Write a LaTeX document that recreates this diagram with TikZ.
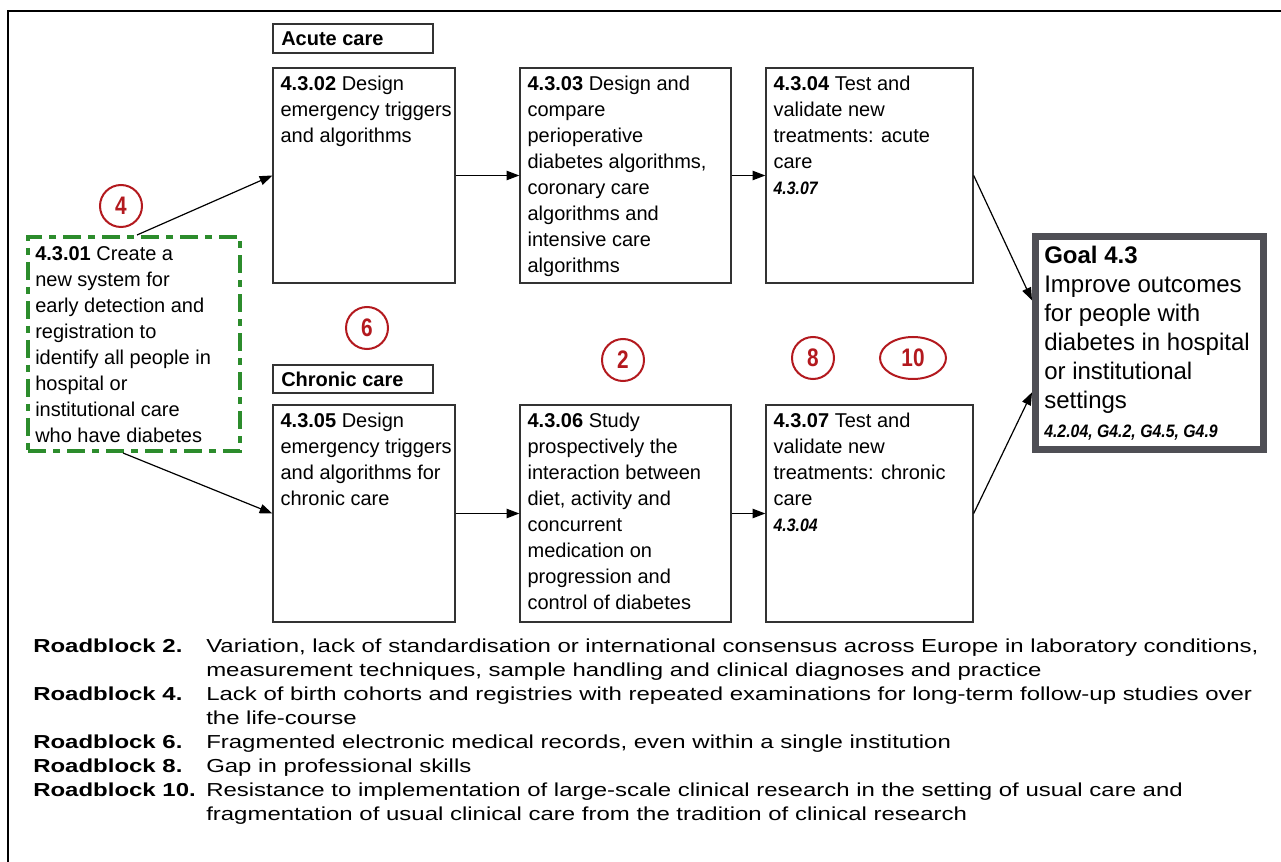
\documentclass[tikz,border=0pt]{standalone}
\usepackage{fontspec}
\setmainfont{Liberation Sans}
\newfontfamily\narrowsans[FakeStretch=0.88]{Liberation Sans}
\newfontfamily\digitsans[FakeStretch=0.82]{Liberation Sans}
\newfontfamily\widesans[FakeStretch=1.275]{Liberation Sans}
\usetikzlibrary{arrows.meta,fit,shapes.geometric}
\definecolor{rbred}{HTML}{B3191E}
\definecolor{rbgreen}{HTML}{2C8C2C}
\definecolor{boxgray}{HTML}{333333}
\definecolor{goalgray}{HTML}{4F4F55}
\newcommand{\refs}[1]{{\narrowsans\fontsize{13.5}{19.5}\selectfont\bfseries\itshape #1}}
\begin{document}
\begin{tikzpicture}[x=0.75pt,y=-0.75pt,
  box/.style={rectangle,draw=boxgray,line width=1pt,inner sep=0pt},
  txt/.style={anchor=north west,inner sep=0pt,align=left,text=black,font=\fontsize{15}{19.5}\selectfont},
  goaltxt/.style={anchor=north west,inner sep=0pt,align=left,text=black,font=\fontsize{18}{21.75}\selectfont},
  lbl/.style={anchor=west,inner sep=0pt,font=\fontsize{15}{18}\selectfont\bfseries},
  rb/.style={circle,draw=rbred,line width=1.5pt,minimum size=31.5pt,inner sep=0pt,text=rbred,font=\digitsans\fontsize{19}{19}\selectfont\bfseries},
  rbell/.style={ellipse,draw=rbred,line width=1.5pt,minimum width=49.5pt,minimum height=31.5pt,inner sep=0pt,text=rbred,font=\digitsans\fontsize{19}{19}\selectfont\bfseries},
  arr/.style={-{Triangle[length=9.5pt,width=7pt]},line width=0.9pt,draw=black},
  legl/.style={anchor=base west,inner sep=0pt,font=\widesans\fontsize{14.1}{18}\selectfont\bfseries},
  legt/.style={anchor=base west,inner sep=0pt,align=left,font=\widesans\fontsize{14.1}{18}\selectfont}]
\useasboundingbox (0,0) rectangle (1281,862);
\fill[white] (0,0) rectangle (1281,862);
% outer frame
\draw[line width=2pt,line join=miter] (1285,11) -- (8,11) -- (8,866);

% labels
\node[box,fit={(273,24) (433,53)}] (acute) {};
\node[lbl] (acutet) at (281,38.5) {Acute care};
\node[box,fit={(273,365) (433,393)}] (chronic) {};
\node[lbl] (chronict) at (281,379) {Chronic care};

% boxes
\node[box,fit={(273,68) (455,283)}] (b02) {};
\node[box,fit={(520,68) (731,283)}] (b03) {};
\node[box,fit={(766,68) (973,283)}] (b04) {};
\node[box,fit={(273,405) (455,622)}] (b05) {};
\node[box,fit={(520,405) (731,622)}] (b06) {};
\node[box,fit={(766,405) (973,622)}] (b07) {};
\node[rectangle,draw=rbgreen,line width=3pt,inner sep=0pt,dash pattern=on 13.5pt off 5.25pt on 5.25pt off 5.25pt,fit={(28,237) (240,451)}] (g01) {};
\node[rectangle,draw=goalgray,line width=5.25pt,inner sep=0pt,fit={(1035.5,236.5) (1263.5,449.5)}] (goal) {};

\node[txt] (b02t) at ([shift={(8,8)}]b02.north west) {\textbf{4.3.02} Design\\emergency triggers\\and algorithms};
\node[txt] (b03t) at ([shift={(8,8)}]b03.north west) {\textbf{4.3.03} Design and\\compare\\perioperative\\diabetes algorithms,\\coronary care\\algorithms and\\intensive care\\algorithms};
\node[txt] (b04t) at ([shift={(8,8)}]b04.north west) {\textbf{4.3.04} Test and\\validate new\\treatments: acute\\care\\\refs{4.3.07}};
\node[txt] (b05t) at ([shift={(8,8)}]b05.north west) {\textbf{4.3.05} Design\\emergency triggers\\and algorithms for\\chronic care};
\node[txt] (b06t) at ([shift={(8,8)}]b06.north west) {\textbf{4.3.06} Study\\prospectively the\\interaction between\\diet, activity and\\concurrent\\medication on\\progression and\\control of diabetes};
\node[txt] (b07t) at ([shift={(8,8)}]b07.north west) {\textbf{4.3.07} Test and\\validate new\\treatments: chronic\\care\\\refs{4.3.04}};
\node[txt] (g01t) at ([shift={(9,11)}]g01.north west) {\textbf{4.3.01} Create a\\new system for\\early detection and\\registration to\\identify all people in\\hospital or\\institutional care\\who have diabetes};
\node[goaltxt] (goalt) at ([shift={(12,13)}]goal.north west) {\textbf{Goal 4.3}\\Improve outcomes\\for people with\\diabetes in hospital\\or institutional\\settings\\{\narrowsans\fontsize{13.5}{21}\selectfont\bfseries\itshape 4.2.04, G4.2, G4.5, G4.9}};

% roadblock markers
\node[rb] (c4) at (121,206) {4};
\node[rb] (c6) at (367,328) {6};
\node[rb] (c2) at (623,360) {2};
\node[rb] (c8) at (813,358) {8};
\node[rbell] (c10) at (913,358) {10};

% connectors
\draw[arr] ([xshift=2.25pt]g01.north) -- (b02.west);
\draw[arr] ([xshift=-8.25pt]g01.south) -- (b05.west);
\draw[arr] (b02.east) -- (b03.west);
\draw[arr] (b03.east) -- (b04.west);
\draw[arr] (b05.east) -- (b06.west);
\draw[arr] (b06.east) -- (b07.west);
\draw[arr] (b04.east) -- ([yshift=32pt]goal.west);
\draw[arr] (b07.east) -- ([yshift=-37pt]goal.west);

% legend (description nodes anchored at the baseline of their last line)
\node[legl] (r2) at (33,652) {Roadblock 2.};
\node[legt] (r2t) at (206,676) {Variation, lack of standardisation or international consensus across Europe in laboratory conditions,\\measurement techniques, sample handling and clinical diagnoses and practice};
\node[legl] (r4) at (33,700) {Roadblock 4.};
\node[legt] (r4t) at (206,724) {Lack of birth cohorts and registries with repeated examinations for long-term follow-up studies over\\the life-course};
\node[legl] (r6) at (33,748) {Roadblock 6.};
\node[legt] (r6t) at (206,748) {Fragmented electronic medical records, even within a single institution};
\node[legl] (r8) at (33,772) {Roadblock 8.};
\node[legt] (r8t) at (206,772) {Gap in professional skills};
\node[legl] (r10) at (33,796) {Roadblock 10.};
\node[legt] (r10t) at (206,820) {Resistance to implementation of large-scale clinical research in the setting of usual care and\\fragmentation of usual clinical care from the tradition of clinical research};
\end{tikzpicture}
\end{document}
